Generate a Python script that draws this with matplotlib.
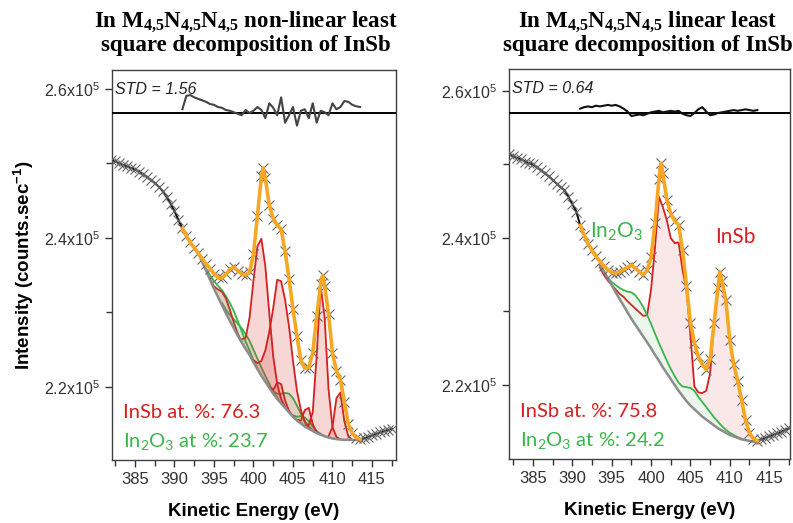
import numpy as np
import matplotlib.pyplot as plt

plt.rcParams["font.family"] = "Liberation Sans"

# ---------------------------------------------------------------------------
# data (intensities in units of 1e3 counts/s)
# ---------------------------------------------------------------------------
energy = np.sort(np.r_[np.arange(382.0, 418.0, 0.5), 401.25, 408.75])

counts_nl = [250.5, 250.3, 250.0, 249.8, 249.6, 249.4, 249.2, 248.9, 248.6, 248.2,
             247.8, 247.4, 246.9, 246.3, 245.5, 244.6, 243.6, 242.4, 241.3, 240.3,
             239.4, 238.7, 238.0, 237.2, 236.5, 235.9, 235.2, 234.7, 234.6, 235.1,
             235.8, 236.1, 235.6, 235.2, 235.0, 235.4, 237.8, 243.0, 248.3, 249.4,
             248.0, 244.4, 242.6, 241.7, 241.2, 238.2, 234.5, 230.5, 226.8, 223.6,
             222.5, 222.6, 224.6, 229.5, 233.8, 235.0, 233.6, 229.8, 224.5, 222.2,
             221.0, 218.0, 215.0, 213.8, 213.2, 213.0, 213.1, 213.3, 213.5, 213.7,
             213.9, 214.1, 214.2, 214.4]

counts_lin = [251.4, 251.1, 250.9, 250.7, 250.4, 250.2, 250.0, 249.6, 249.2, 248.8,
              248.4, 247.9, 247.4, 246.9, 246.5, 245.6, 244.6, 243.6, 241.7, 240.4,
              239.2, 238.3, 237.5, 236.8, 236.2, 235.7, 235.3, 235.2, 235.4, 235.7,
              236.0, 236.3, 235.9, 235.4, 235.0, 235.6, 237.4, 242.0, 248.0, 250.2,
              248.8, 245.2, 243.3, 242.3, 241.8, 238.3, 233.5, 228.5, 225.7, 223.9,
              222.8, 222.1, 223.5, 228.5, 233.2, 235.4, 234.2, 231.5, 226.1, 222.8,
              220.6, 218.0, 215.2, 213.5, 212.7, 212.4, 212.6, 212.8, 213.0, 213.2,
              213.4, 213.6, 213.9, 214.1]

# residuals (1e3 counts/s), 391.0 ... 413.5 eV
res_energy = np.arange(391.0, 414.0, 0.5)
resid_nl = [0.5, 2.3, 2.4, 2.1, 1.9, 1.7, 1.5, 1.2, 1.1, 0.8, 0.7, 0.4, 0.3, 0.1, -0.1, -0.3,
            0.4, 0.0, 0.3, 0.8, 0.4, -0.7, 1.3, 0.7, -0.3, 2.1, -1.3, -0.3, 0.8, -1.7, 0.3, 0.5,
            -0.7, 1.3, -1.3, 0.3, 0.1, -0.3, 1.3, 0.5, 0.8, 1.6, 1.5, 1.1, 0.9, 0.8]
resid_lin = [0.6, 0.8, 0.9, 0.8, 1.0, 0.9, 1.0, 1.1, 1.0, 1.1, 0.9, 0.6, 0.2, -0.4, -0.3, -0.2,
             -0.3, -0.1, 0.1, 0.2, 0.3, 0.1, 0.2, 0.3, 0.2, 0.3, -0.1, -0.3, -0.4, 0.0, 0.5, 0.8,
             0.2, -0.3, -0.2, 0.0, 0.1, 0.2, 0.3, 0.4, 0.3, 0.4, 0.5, 0.4, 0.3, 0.4]

# non-linear fit: background 393.0 ... 413.5 eV and components (start eV, height above bg)
bg_nl_energy = np.arange(393.0, 414.0, 0.5)
bg_nl = [238.0, 236.8, 235.6, 234.4, 233.2, 232.1, 231.0, 229.9, 228.9, 227.9,
         226.9, 226.0, 225.1, 224.3, 223.3, 222.4, 221.5, 220.7, 219.9, 219.1,
         218.4, 217.8, 217.2, 216.6, 216.0, 215.5, 215.1, 214.7, 214.4, 214.1,
         213.8, 213.6, 213.4, 213.2, 213.1, 213.0, 212.95, 212.9, 212.9, 212.9,
         212.9, 212.9]

insb_nl = [
    (394.5, [0.1, 0.3, 1.0, 1.8, 2.0, 1.5, 0.8, 0.3, 0.0]),
    (398.5, [0.4, 1.5, 5.0, 11.0, 16.5, 18.4, 15.5, 10.0, 5.0, 2.0, 0.6, 0.1]),
    (400.0, [0.3, 0.8, 2.0, 4.2, 7.5, 11.5, 16.0, 16.4, 14.5, 11.5, 7.5, 4.0, 1.8, 0.6, 0.1]),
    (402.0, [0.1, 0.5, 2.2, 2.6, 1.0, 0.2, 0.0]),
    (405.5, [0.1, 0.4, 2.2, 2.8, 0.9, 0.1, 0.0]),
    (406.5, [0.1, 0.5, 2.5, 10.5, 20.0, 16.0, 6.5, 1.5, 0.3, 0.0]),
    (409.5, [0.2, 1.5, 5.5, 6.3, 2.5, 0.5, 0.0]),
]
in2o3_nl = [
    (394.0, [0.3, 0.6, 1.0, 1.5, 2.0, 2.3, 2.4, 2.3, 2.0, 1.5, 1.0, 0.6, 0.3, 0.1, 0.0]),
    (396.0, [0.3, 0.5, 0.8, 1.2, 1.6, 1.9, 2.0, 1.9, 1.7, 1.4, 1.1, 0.8, 0.5, 0.3, 0.1, 0.0]),
    (402.5, [0.3, 0.7, 1.3, 2.0, 2.5, 2.5, 2.0, 1.3, 0.7, 0.3, 0.1, 0.0]),
    (405.0, [0.2, 0.5, 1.0, 1.2, 1.0, 0.6, 0.3, 0.1, 0.0]),
]

# linear fit: 393.5 ... 413.5 eV
lin_energy = np.arange(393.5, 414.0, 0.5)
bg_lin = [236.3, 235.5, 234.5, 233.6, 232.6, 231.7, 230.8, 229.9, 229.0, 228.2,
          227.4, 226.6, 225.8, 225.0, 224.1, 223.3, 222.4, 221.6, 220.8, 220.0,
          219.2, 218.5, 217.8, 217.2, 216.7, 216.2, 215.7, 215.3, 214.9, 214.5,
          214.1, 213.8, 213.5, 213.2, 213.0, 212.8, 212.6, 212.5, 212.4, 212.3,
          212.3]
in2o3_lin = [236.3, 235.3, 234.6, 234.0, 233.6, 233.2, 232.9, 232.7, 232.6, 232.2,
             231.5, 230.6, 229.5, 228.3, 227.0, 225.7, 224.5, 223.3, 222.2, 221.2,
             220.3, 219.8, 219.7, 219.6, 219.2, 218.4, 217.7, 217.0, 216.3, 215.6,
             215.0, 214.4, 213.9, 213.5, 213.2, 212.9, 212.7, 212.5, 212.4, 212.3,
             212.3]
insb_lin = [236.0, 235.0, 234.2, 233.6, 233.0, 232.4, 232.0, 231.4, 230.9, 230.4,
            229.9, 229.4, 229.5, 233.0, 238.7, 245.6, 244.2, 242.4, 240.0, 239.3,
            239.4, 235.6, 232.9, 226.8, 219.8, 219.0, 218.9, 219.2, 221.6, 228.5,
            233.2, 234.2, 231.5, 226.1, 222.8, 220.6, 218.0, 215.2, 213.5, 212.7,
            212.4]

sub45 = "$\\mathregular{_{4{,}5}}$"
titles = ["In M" + sub45 + "N" + sub45 + "N" + sub45 + " non-linear least",
          "In M" + sub45 + "N" + sub45 + "N" + sub45 + " linear least"]
std_text = ["STD = 1.56", "STD = 0.64"]
insb_pct = [76.3, 75.8]
in2o3_pct = [23.7, 24.2]

RED = "#d42020"
GREEN = "#3cb44b"
ORANGE = "#f7a823"
GRAY = "#8c8c8c"
K = 1e3

fig = plt.figure(figsize=(7.93, 5.23), dpi=100)
ax_l = fig.add_axes([112 / 793, 1 - 460 / 523, 284 / 793, 390 / 523])
ax_r = fig.add_axes([509 / 793, 1 - 459 / 523, 281 / 793, 390 / 523])
axes = [ax_l, ax_r]
ylims = [(210.2 * K, 262.55 * K), (209.93 * K, 262.99 * K)]
xlims = [(382.09, 418.04), (381.95, 417.65)]
res_base = [256.78 * K, 257.0 * K]
res_color = ["#444444", "#111111"]

for i, (ax, counts, resid) in enumerate(zip(axes, [counts_nl, counts_lin],
                                             [resid_nl, resid_lin])):
    counts = np.array(counts) * K
    ax.plot(energy, counts, color="black", lw=1.4, marker="x", ms=7, mew=0.8,
            mec="#666666", zorder=4)
    fit = (energy >= 391.0) & (energy <= 413.6)
    ax.plot(energy[fit], counts[fit], color=ORANGE, lw=2.6, zorder=5,
            solid_joinstyle="round")

    # residual trace
    ax.axhline(res_base[i], color="black", lw=1.4, zorder=3)
    ax.plot(res_energy, res_base[i] + np.array(resid) * K, color=res_color[i],
            lw=1.5, zorder=4)

    ax.set_xlim(*xlims[i])
    ax.set_ylim(*ylims[i])
    ax.set_xticks(np.arange(385, 416, 5))
    ax.set_xticks(np.arange(382.5, 418, 2.5), minor=True)
    yt = [220000, 240000, 260000]
    ax.set_yticks(yt, ["%.1fx10$\\mathregular{^5}$" % (v / 1e5) for v in yt])
    ax.set_yticks([230000, 250000], minor=True)
    ax.tick_params(which="both", direction="out", colors="#333333",
                   labelsize=12, width=1.0)
    ax.tick_params(which="major", length=5)
    ax.tick_params(which="minor", length=4)
    ax.tick_params(axis="y", labelsize=11.5)
    for s in ax.spines.values():
        s.set_color("#404040")
        s.set_linewidth(1.0)

    ax.text(0.012, 0.97, std_text[i], transform=ax.transAxes, ha="left", va="top",
            fontsize=11.5, style="italic", color="#222222")
    ax.text(0.04, 0.122, "InSb at. %%: %.1f" % insb_pct[i], transform=ax.transAxes,
            ha="left", va="center", fontsize=14.5, color=RED, family="Lato")
    ax.text(0.04, 0.048, "In$\\mathregular{_2}$O$\\mathregular{_3}$ at %%: %.1f" % in2o3_pct[i],
            transform=ax.transAxes, ha="left", va="center", fontsize=14.5,
            color=GREEN, family="Lato")
    ax.set_xlabel("Kinetic Energy (eV)", fontsize=13.5, fontweight="bold", labelpad=12)

# --- non-linear decomposition components
bg_arr = np.array(bg_nl) * K
for comps, col, a in [(in2o3_nl, GREEN, 0.12), (insb_nl, RED, 0.18)]:
    for start, h in comps:
        j = int(round((start - bg_nl_energy[0]) / 0.5))
        e = bg_nl_energy[j:j + len(h)]
        b = bg_arr[j:j + len(h)]
        top = b + np.array(h) * K
        ax_l.fill_between(e, b, top, color=col, alpha=a, lw=0, zorder=3)
        ax_l.plot(e, top, color=col, lw=1.3, zorder=2)
ax_l.plot(bg_nl_energy, bg_arr, color=GRAY, lw=1.8, zorder=3)

# --- linear decomposition
bgl = np.array(bg_lin) * K
grn = np.array(in2o3_lin) * K
red = np.array(insb_lin) * K
ax_r.fill_between(lin_energy, bgl, grn, color=GREEN, alpha=0.1, lw=0, zorder=3)
ax_r.fill_between(lin_energy, grn, red, where=red >= grn, interpolate=True,
                  color=RED, alpha=0.1, lw=0, zorder=3)
ax_r.plot(lin_energy, red, color=RED, lw=1.3, zorder=2)
ax_r.plot(lin_energy, grn, color=GREEN, lw=1.3, zorder=3)
ax_r.plot(lin_energy, bgl, color=GRAY, lw=1.8, zorder=3)
ax_r.text(617 / 793, 1 - 232 / 523, "In$\\mathregular{_2}$O$\\mathregular{_3}$",
          transform=fig.transFigure, ha="center", va="center", fontsize=15,
          color=GREEN, family="Lato")
ax_r.text(735 / 793, 1 - 237 / 523, "InSb", transform=fig.transFigure,
          ha="center", va="center", fontsize=15, color=RED, family="Lato")

ax_l.set_ylabel("Intensity (counts.sec$\\mathregular{^{-1}}$)", fontsize=13.5,
                fontweight="bold", labelpad=6)

# titles
for cx, t in zip([246, 648], titles):
    fig.text(cx / 793, 1 - 22 / 523, t, ha="center", va="center", fontsize=16.5,
             fontweight="bold", family="Liberation Serif")
    fig.text(cx / 793, 1 - 46 / 523, "square decomposition of InSb", ha="center",
             va="center", fontsize=16.5, fontweight="bold", family="Liberation Serif")

fig.savefig("out.png", dpi=100)
